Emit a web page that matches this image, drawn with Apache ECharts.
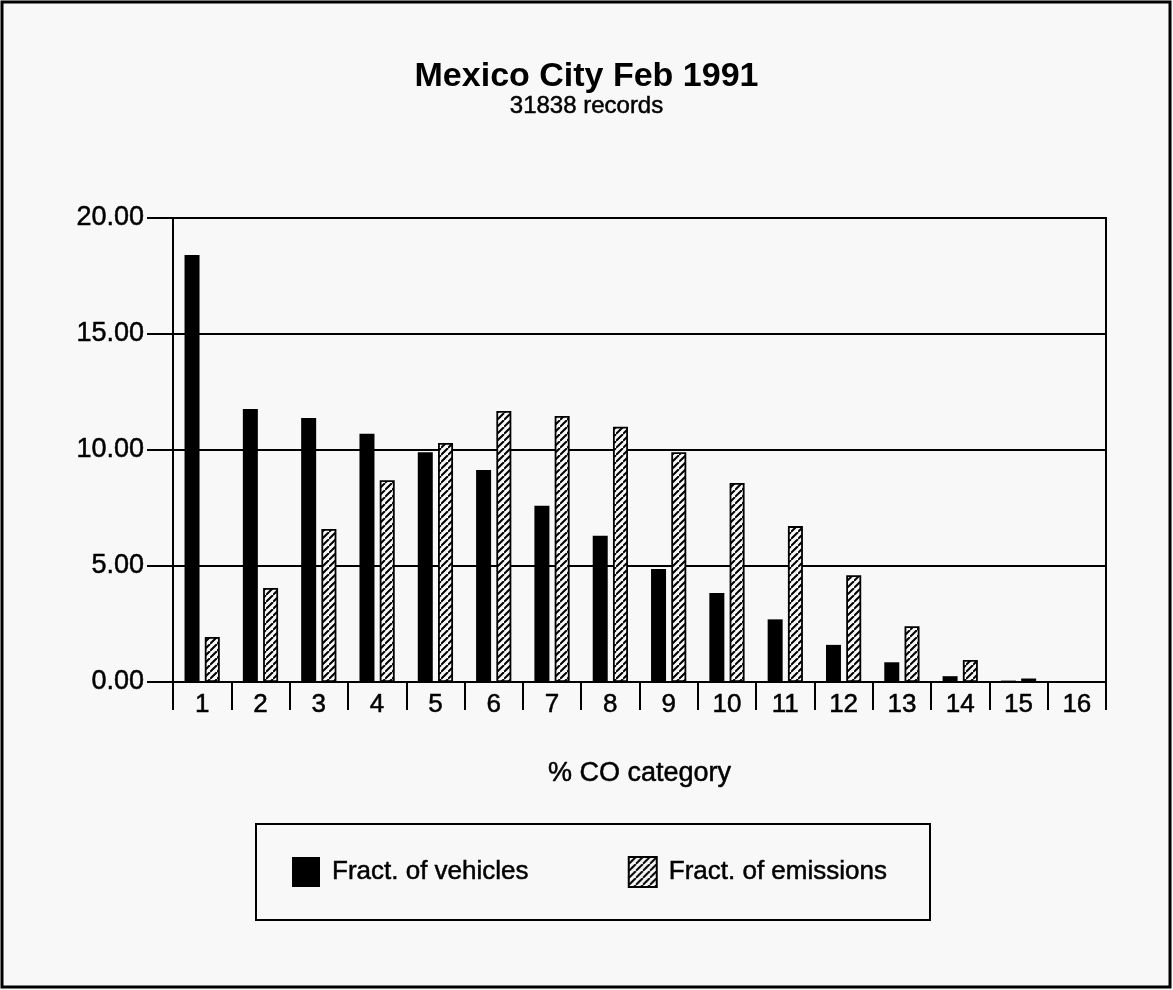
<!DOCTYPE html>
<html>
<head>
<meta charset="utf-8">
<script src="https://cdn.jsdelivr.net/npm/echarts@6/dist/echarts.min.js"></script>
<style>
html,body{margin:0;padding:0;background:#f8f8f8;}
#c{width:1173px;height:990px;}
</style>
</head>
<body>
<div id="c"></div>
<script>
var categories = ['1','2','3','4','5','6','7','8','9','10','11','12','13','14','15','16'];
var fractVehicles = [18.4, 11.77, 11.38, 10.7, 9.9, 9.14, 7.6, 6.3, 4.87, 3.84, 2.7, 1.6, 0.85, 0.25, 0.06, 0];
var fractEmissions = [1.94, 4.05, 6.6, 8.7, 10.3, 11.68, 11.47, 11.0, 9.9, 8.58, 6.72, 4.6, 2.4, 0.95, 0.15, 0];
var yTicks = [0, 5, 10, 15, 20];

var FONT = '"Liberation Sans", Arial, Helvetica, sans-serif';
var heavy = {textBorderColor: '#000', textBorderWidth: 0.5};

function hatch() {
  var s = 7;
  var cv = document.createElement('canvas');
  cv.width = s; cv.height = s;
  var g = cv.getContext('2d');
  g.fillStyle = '#f8f8f8';
  g.fillRect(0, 0, s, s);
  g.strokeStyle = '#000';
  g.lineWidth = 2;
  g.beginPath();
  g.moveTo(0, s); g.lineTo(s, 0);
  g.moveTo(-s, s); g.lineTo(0, 0);
  g.moveTo(s, 2 * s); g.lineTo(2 * s, s);
  g.stroke();
  return cv;
}
var hatchPattern = {image: hatch(), repeat: 'repeat'};

var chart = echarts.init(document.getElementById('c'), null, {renderer: 'canvas'});
chart.setOption({
  backgroundColor: '#f8f8f8',
  animation: false,
  title: {
    text: 'Mexico City Feb 1991',
    subtext: '31838 records',
    left: 'center',
    top: 55,
    itemGap: 0,
    textStyle: {fontFamily: FONT, fontWeight: 'bold', fontSize: 34, color: '#000'},
    subtextStyle: Object.assign({fontFamily: FONT, fontSize: 24, color: '#000'}, heavy)
  },
  grid: {
    left: 173, right: 67, top: 218, bottom: 308,
    show: true, borderColor: '#000', borderWidth: 2, backgroundColor: 'transparent'
  },
  legend: {
    left: 292, top: 856,
    padding: 0,
    icon: 'rect',
    itemWidth: 28, itemHeight: 30, itemGap: 99,
    data: ['Fract. of vehicles', 'Fract. of emissions'],
    textStyle: Object.assign({fontFamily: FONT, fontSize: 26, color: '#000', padding: [0, 0, 0, 7]}, heavy)
  },
  xAxis: {
    type: 'category',
    data: categories,
    name: '% CO category',
    nameLocation: 'middle',
    nameGap: 78,
    nameTextStyle: Object.assign({fontFamily: FONT, fontSize: 27, color: '#000'}, heavy),
    axisLine: {show: true, lineStyle: {color: '#000', width: 2}},
    axisTick: {show: true, length: 28, lineStyle: {color: '#000', width: 2}},
    axisLabel: Object.assign({fontFamily: FONT, fontSize: 26, color: '#000', margin: 10}, heavy)
  },
  yAxis: {
    type: 'value',
    min: 0, max: 20, interval: 5,
    axisLine: {show: true, lineStyle: {color: '#000', width: 2}},
    axisTick: {show: true, length: 26, lineStyle: {color: '#000', width: 2}},
    splitLine: {show: true, lineStyle: {color: '#000', width: 2}},
    axisLabel: Object.assign({
      fontFamily: FONT, fontSize: 27, color: '#000', margin: 29,
      formatter: function (v) { return yTicks.indexOf(v) >= 0 ? v.toFixed(2) : ''; }
    }, heavy)
  },
  series: [
    {
      name: 'Fract. of vehicles',
      type: 'bar',
      data: fractVehicles,
      barWidth: 15,
      barGap: '35%',
      itemStyle: {color: '#000'}
    },
    {
      name: 'Fract. of emissions',
      type: 'bar',
      data: fractEmissions,
      barWidth: 15,
      itemStyle: {color: hatchPattern, borderColor: '#000', borderWidth: 1.8}
    }
  ],
  graphic: [
    {type: 'rect', shape: {x: 2, y: 2, width: 1168, height: 985}, style: {fill: 'none', stroke: '#000', lineWidth: 3}, silent: true},
    {type: 'rect', shape: {x: 256, y: 824, width: 674, height: 96}, style: {fill: 'none', stroke: '#000', lineWidth: 2}, silent: true}
  ]
});
</script>
</body>
</html>
